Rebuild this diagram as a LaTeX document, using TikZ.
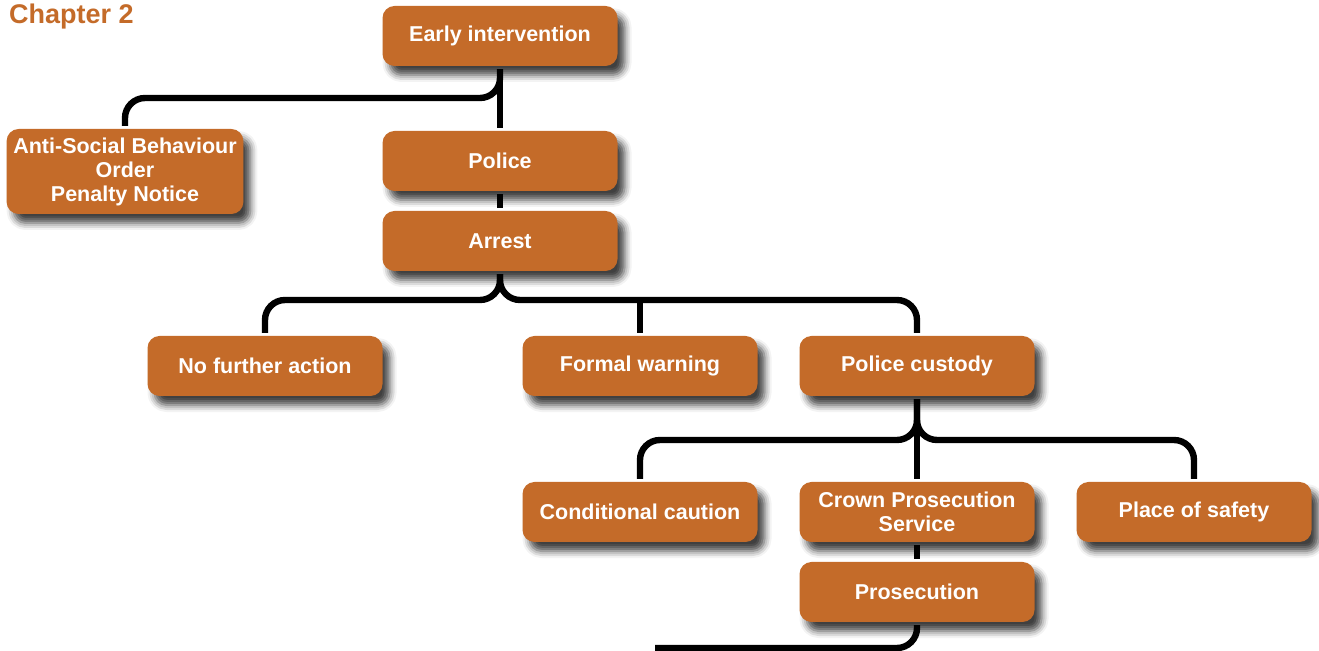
\documentclass[tikz,border=0pt]{standalone}
\usepackage{fontspec}
\setmainfont{Liberation Sans}
\usepackage{tikz}
\usetikzlibrary{arrows,shadows.blur}
\definecolor{corange}{rgb}{0.77, 0.42, 0.16}

\begin{document}
\begin{tikzpicture}[x=0.5pt,y=-0.5pt,node distance=40pt,
  line width=3.2pt,
  main node/.style={rectangle,rounded corners=6pt,fill=corange,text=white,align=center,
    minimum width=117.5pt,minimum height=30pt,font=\bfseries\fontsize{10.75}{12}\selectfont,
    blur shadow={shadow xshift=3.5pt,shadow yshift=-4.5pt,shadow blur radius=3.5pt,shadow opacity=75}},
  title node/.style={anchor=base west,inner sep=0pt,text=corange,font=\bfseries\fontsize{13.5}{16}\selectfont},
  link/.style={draw=black,rounded corners=10pt}]
  \useasboundingbox (0,0) rectangle (1319,651);

  \node[title node] (0) at (6,24) {Chapter 2};
  \node[main node] (1) at (500,36) {Early intervention};
  \node[main node] (2) [below of=1, node distance=62.5pt] {Police};
  \node[main node] (3) [below of=2] {Arrest};
  \node[main node] (4) [left of=2, node distance=187.5pt, yshift=-5.25pt, minimum height=42.5pt] {Anti-Social Behaviour\\Order\\Penalty Notice};
  \node[main node] (5) [below of=3, node distance=62.5pt, xshift=70pt] {Formal warning};
  \node[main node] (6) [left of=5, node distance=187.5pt] {No further action};
  \node[main node] (7) [right of=5, node distance=138.5pt] {Police custody};
  \node[main node] (8) [below of=5, node distance=73pt] {Conditional caution};
  \node[main node] (9) [below of=7, node distance=73pt] {Crown Prosecution\\Service};
  \node[main node] (10) [right of=9, node distance=138.5pt] {Place of safety};
  \node[main node] (11) [below of=9] {Prosecution};

  \coordinate (b1) at (500,98);
  \coordinate (b2) at (500,300);
  \coordinate (b3) at (917,440);
  \coordinate (b4) at (655,648);

  \draw[link] (1.south) -- (b1) -| (4.north);
  \draw[link] (1) -- (2);
  \draw[link] (2) -- (3);
  \draw[link] (3.south) -- (b2) -| (6.north);
  \draw[link] (3.south) -- (b2) -| (7.north);
  \draw[link] (5.north) -- (5.north |- b2);
  \draw[link] (7.south) -- (b3) -| (8.north);
  \draw[link] (7.south) -- (b3) -| (10.north);
  \draw[link] (7) -- (9);
  \draw[link] (9) -- (11);
  \draw[link] (11.south) |- (b4);
\end{tikzpicture}
\end{document}
